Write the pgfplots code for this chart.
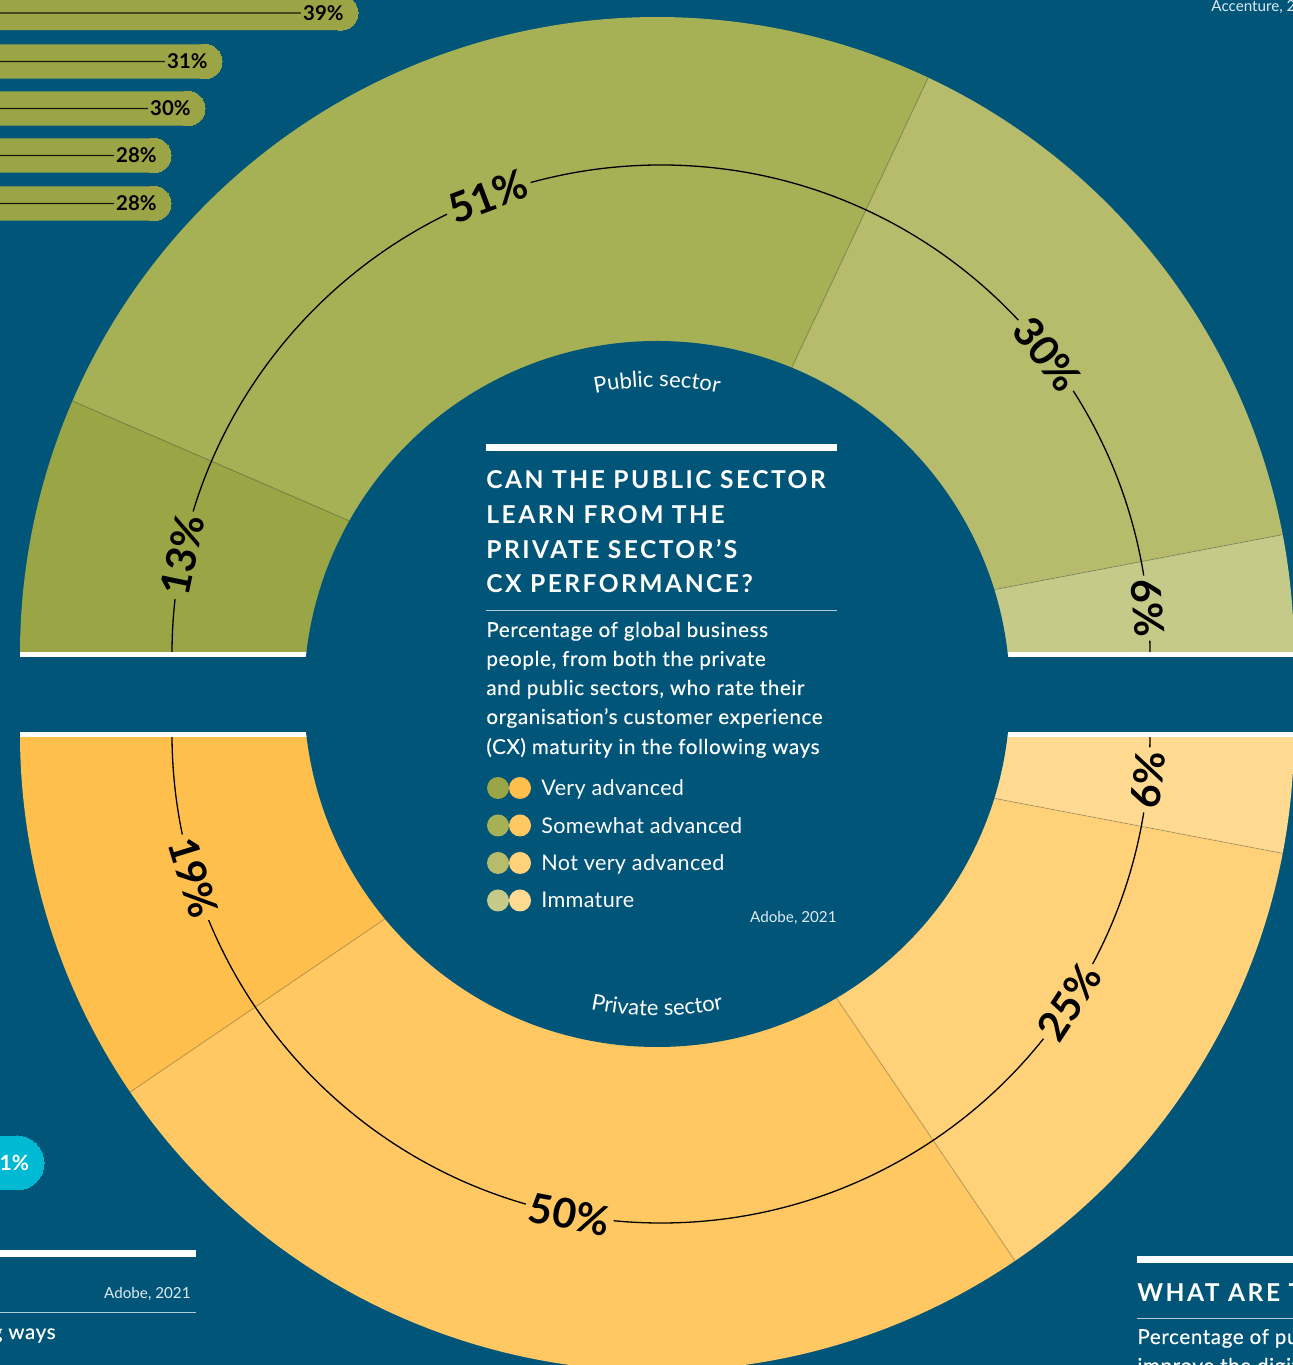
\documentclass[border=0pt]{standalone}
\usepackage{pgfplots}
\pgfplotsset{compat=1.18}
\usepackage{pgfplotstable}
\usepackage{fontspec}
\setmainfont{Lato}
\newfontfamily\headfont[LetterSpace=10]{Lato}
\newfontfamily\bodyfont[LetterSpace=3, FakeBold=0.3]{Lato}
\newfontfamily\legfont[LetterSpace=1.5]{Lato}
\usetikzlibrary{decorations.text}

\definecolor{bg}{HTML}{005579}
\definecolor{pub0}{HTML}{9AA546}
\definecolor{pub1}{HTML}{A6B054}
\definecolor{pub2}{HTML}{B6BC6B}
\definecolor{pub3}{HTML}{C6CA89}
\definecolor{priv0}{HTML}{FFBF4D}
\definecolor{priv1}{HTML}{FFC862}
\definecolor{priv2}{HTML}{FFD178}
\definecolor{priv3}{HTML}{FFDA90}
\definecolor{pill}{HTML}{9BA545}
\definecolor{cyanpill}{HTML}{00BAD3}
\colorlet{softwhite}{white!88!bg}
\colorlet{thinrule}{white!70!bg}

\newcommand\pctfont{\fontsize{20.5}{24}\selectfont\bfseries}
\newcommand\pillfont{\fontsize{10.2}{12}\selectfont\bfseries}
\newcommand\headsize{\fontsize{12.3}{15}\selectfont}
\newcommand\bodysize{\bodyfont\fontsize{10.3}{12}\selectfont}
\newcommand\legsize{\legfont\fontsize{10.8}{12}\selectfont}
\newcommand\srcsize{\fontsize{7.6}{9}\selectfont}

% CX maturity, share of respondents (Adobe, 2021)
\pgfplotstableread{
level pub priv
0 13 19
1 51 50
2 30 25
3 6 6
}\cxdata

% bar chart next door, cut off at top left
\pgfplotstableread{
v ypos
39 1352
31 1303.5
30 1256.5
28 1209.5
28 1161.5
}\topbars

\pgfplotstableread{
v xend ypos
31 44 202
}\cyanbar

% one wedge of a half donut: colour, centre y, start angle, end angle
\newcommand\cxwedge[4]{%
  \fill[#1] (657,#2) -- ++(#3:318.5pt) arc[start angle=#3, end angle=#4, radius=318.5pt] -- cycle;}
\newcommand\cxsplit[2]{%
  \draw[black, opacity=0.18, line width=0.5pt] (657,#1) -- ++(#2:318.5pt);}
% label on the thin arc: colour, centre y, angle, rotation, value
\newcommand\cxlabel[5]{%
  \path (661,#2) ++(#3:244.5pt) node[fill=#1, inner xsep=2pt, inner ysep=0pt, rotate=#4, font=\pctfont] {#5\%};}

\begin{document}
\begin{tikzpicture}
\def\cpub{0}\def\cpriv{0}
\pgfplotsforeachungrouped \i in {0,1,2,3}{%
  \pgfplotstablegetelem{\i}{pub}\of\cxdata \let\vpub\pgfplotsretval
  \pgfplotstablegetelem{\i}{priv}\of\cxdata \let\vpriv\pgfplotsretval
  \pgfmathsetmacro\cxpa{180-1.8*\cpub}%
  \pgfmathsetmacro\cpub{\cpub+\vpub}%
  \pgfmathsetmacro\cxpb{180-1.8*\cpub}%
  \pgfmathsetmacro\cxpm{(\cxpa+\cxpb)/2}%
  \pgfmathsetmacro\cxpr{\cxpm-90}%
  \pgfmathsetmacro\cxqa{180+1.8*\cpriv}%
  \pgfmathsetmacro\cpriv{\cpriv+\vpriv}%
  \pgfmathsetmacro\cxqb{180+1.8*\cpriv}%
  \pgfmathsetmacro\cxqm{(\cxqa+\cxqb)/2}%
  \pgfmathsetmacro\cxqr{\cxqm+90}%
  \expandafter\xdef\csname pubA\i\endcsname{\cxpa}%
  \expandafter\xdef\csname pubB\i\endcsname{\cxpb}%
  \expandafter\xdef\csname pubM\i\endcsname{\cxpm}%
  \expandafter\xdef\csname pubR\i\endcsname{\cxpr}%
  \expandafter\xdef\csname pubV\i\endcsname{\vpub}%
  \expandafter\xdef\csname privA\i\endcsname{\cxqa}%
  \expandafter\xdef\csname privB\i\endcsname{\cxqb}%
  \expandafter\xdef\csname privM\i\endcsname{\cxqm}%
  \expandafter\xdef\csname privR\i\endcsname{\cxqr}%
  \expandafter\xdef\csname privV\i\endcsname{\vpriv}%
}

\fill[bg] (0,0) rectangle (646.5pt,682.5pt);
\path[use as bounding box] (0,0) rectangle (646.5pt,682.5pt);
\clip (0,0) rectangle (646.5pt,682.5pt);

\begin{axis}[
    at={(0,0)}, anchor=south west,
    x=0.5pt, y=0.5pt,
    xmin=0, xmax=1293, ymin=0, ymax=1365,
    hide axis, enlargelimits=false,
    /pgf/number format/assume math mode=true,
]
% half donuts
\pgfplotsinvokeforeach{0,1,2,3}{%
  \edef\tmp{\noexpand\cxwedge{pub#1}{711}{\csname pubA#1\endcsname}{\csname pubB#1\endcsname}}\tmp
  \edef\tmp{\noexpand\cxwedge{priv#1}{631}{\csname privA#1\endcsname}{\csname privB#1\endcsname}}\tmp
}
\pgfplotsinvokeforeach{0,1,2}{%
  \edef\tmp{\noexpand\cxsplit{711}{\csname pubB#1\endcsname}}\tmp
  \edef\tmp{\noexpand\cxsplit{631}{\csname privB#1\endcsname}}\tmp
}
\draw[black, line width=0.65pt] (661,711) ++(180:244.5pt) arc[start angle=180, end angle=0, radius=244.5pt];
\draw[black, line width=0.65pt] (661,631) ++(180:244.5pt) arc[start angle=180, end angle=360, radius=244.5pt];
\pgfplotsinvokeforeach{0,1,2,3}{%
  \edef\tmp{\noexpand\cxlabel{pub#1}{711}{\csname pubM#1\endcsname}{\csname pubR#1\endcsname}{\csname pubV#1\endcsname}}\tmp
  \edef\tmp{\noexpand\cxlabel{priv#1}{631}{\csname privM#1\endcsname}{\csname privR#1\endcsname}{\csname privV#1\endcsname}}\tmp
}
% white edges and the hole
\fill[white] (20,708) rectangle (1293,713);
\fill[white] (20,628) rectangle (1293,633);
\fill[bg] (657,671) circle[radius=176.5pt];

\path[decorate, decoration={text along path, text align=center,
    text={|\color{white}\fontsize{11}{13}\selectfont|Public sector}}]
  (657,671) ++(124:153.5pt) arc[start angle=124, end angle=56, radius=153.5pt];
\path[decorate, decoration={text along path, text align=center,
    text={|\color{white}\fontsize{11}{13}\selectfont|Private sector}}]
  (657,671) ++(236:161pt) arc[start angle=236, end angle=304, radius=161pt];

% centre text block
\fill[white] (486,914) rectangle (837,921);
\begin{scope}[every node/.style={anchor=base west, inner sep=0pt, text=white}]
\node[font=\headfont\bfseries\headsize] at (486,876) {CAN THE PUBLIC SECTOR};
\node[font=\headfont\bfseries\headsize] at (486,841) {LEARN FROM THE};
\node[font=\headfont\bfseries\headsize] at (486,806) {PRIVATE SECTOR’S};
\node[font=\headfont\bfseries\headsize] at (486,772) {CX PERFORMANCE?};
\node[font=\bodysize] at (486,728) {Percentage of global business};
\node[font=\bodysize] at (486,699) {people, from both the private};
\node[font=\bodysize] at (486,670) {and public sectors, who rate their};
\node[font=\bodysize] at (486,641) {organisation’s customer experience};
\node[font=\bodysize] at (486,611) {(CX) maturity in the following ways};
\node[font=\legsize] at (541,569.5) {Very advanced};
\node[font=\legsize] at (541,531.5) {Somewhat advanced};
\node[font=\legsize] at (541,494.5) {Not very advanced};
\node[font=\legsize] at (541,457.5) {Immature};
\node[font=\srcsize, anchor=base east, text=softwhite] at (837,442) {Adobe, 2021};
\node[font=\srcsize, text=softwhite] at (1211,1353) {Accenture, 2021};
\node[font=\srcsize, anchor=base east, text=softwhite] at (191,66) {Adobe, 2021};
\node[font=\bodysize, anchor=base east] at (56,26) {following ways};
\node[font=\headfont\bfseries\headsize] at (1137,63) {WHAT ARE THE};
\node[font=\bodysize] at (1137,21) {Percentage of public};
\node[font=\bodysize] at (1137,-8) {improve the digital};
\end{scope}
\draw[thinrule, line width=0.5pt] (486,754.5) -- (837,754.5);
\pgfplotsinvokeforeach{0,1,2,3}{%
  \fill[pub#1] (498,577-37.5*#1) circle[radius=5.5pt];
  \fill[priv#1] (520,577-37.5*#1) circle[radius=5.5pt];
}

% neighbouring charts, cut by the page edge
\fill[white] (0,107.5) rectangle (196,115);
\draw[thinrule, line width=0.5pt] (0,52) -- (196,52);
\fill[white] (1137,102) rectangle (1293,109);
\draw[thinrule, line width=0.5pt] (1137,46) -- (1293,46);

\addplot[xbar, bar shift=0pt, bar width=17.2pt, fill=pill, draw=none,
    mark=*, mark size=8.6pt, mark options={fill=pill, draw=pill, line width=0pt}]
  table[x expr=17*\thisrow{v}-322.2, y=ypos] {\topbars};
\addplot[xbar, bar shift=0pt, bar width=0.65pt, fill=black!85!pill, draw=none,
    point meta=explicit,
    nodes near coords={\pgfmathprintnumber{\pgfplotspointmeta}\%},
    every node near coord/.append style={anchor=east, xshift=9pt, fill=pill,
      inner xsep=1pt, inner ysep=1pt, font=\pillfont, text=black}]
  table[x expr=17*\thisrow{v}-335, y=ypos, meta=v] {\topbars};
\addplot[xbar, bar shift=0pt, bar width=27pt, fill=cyanpill, draw=none,
    mark=*, mark size=13.5pt, mark options={fill=cyanpill, draw=cyanpill, line width=0pt},
    point meta=explicit,
    nodes near coords={\pgfmathprintnumber{\pgfplotspointmeta}\%},
    every node near coord/.append style={anchor=east, xshift=6pt,
      inner sep=0pt, font=\fontsize{10.5}{12}\selectfont\bfseries, text=white}]
  table[x expr=\thisrow{xend}-27, y=ypos, meta=v] {\cyanbar};
\end{axis}
\end{tikzpicture}
\end{document}
